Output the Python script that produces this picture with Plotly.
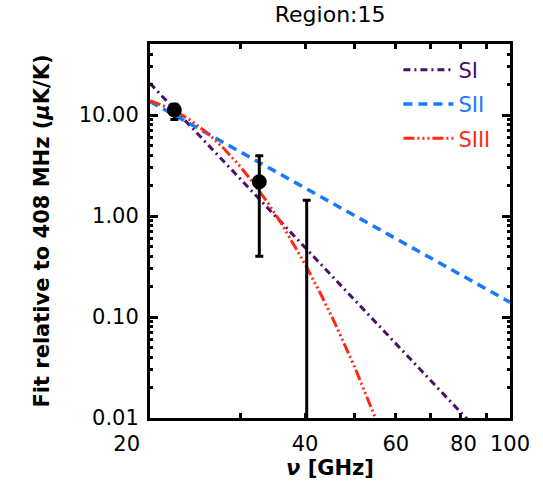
import plotly.graph_objects as go

# Measured brightness relative to 408 MHz
freq_obs = [22.3, 32.6, 40.3]
val_obs = [11.2, 2.18, 0.004]
err_plus = [1.6, 1.78, 1.426]
err_minus = [2.2, 1.78, 0.004]

# Model SI (power law)
freq_s1 = [20, 30, 40, 50, 60, 70, 80, 90]
val_s1 = [20.6, 2.31, 0.489, 0.146, 0.0546, 0.0238, 0.01156, 0.00612]

# Model SII (power law)
freq_s2 = [20, 30, 40, 60, 80, 100]
val_s2 = [13.6, 4.30, 1.90, 0.600, 0.265, 0.140]

# Model SIII (curved spectrum)
freq_s3 = [20, 22, 24, 26, 28, 30, 32, 34, 36, 38, 40, 43, 46, 50, 54, 56]
val_s3 = [13.9, 11.5, 8.87, 6.46, 4.51, 3.05, 2.02, 1.31, 0.838, 0.531,
          0.334, 0.165, 0.0812, 0.0314, 0.0121, 0.0076]

x_ticks = [20, 40, 60, 80, 100]
x_tick_text = ["20" + "\u00a0" * 7, "40", "60", "\u00a080", "100"]
y_ticks = [0.01, 0.1, 1, 10]
y_tick_text = ["0.01", "0.10", "1.00", "10.00"]

C1 = "#4a0f66"
C2 = "#1a78ff"
C3 = "#ff2a12"
FONT = "DejaVu Sans"

fig = go.Figure()

fig.add_trace(go.Scatter(
    x=freq_s1, y=val_s1, mode="lines", legendgroup="a",
    name=f"<span style='color:{C1}'>SI</span>",
    line=dict(color=C1, width=3, dash="7px,4px,2px,4px"),
))
fig.add_trace(go.Scatter(
    x=freq_s2, y=val_s2, mode="lines", legendgroup="b",
    name=f"<span style='color:{C2}'>SII</span>",
    line=dict(color=C2, width=3.5, dash="9px,6px"),
))
fig.add_trace(go.Scatter(
    x=freq_s3, y=val_s3, mode="lines", legendgroup="c",
    name=f"<span style='color:{C3}'>SIII</span>",
    line=dict(color=C3, width=3, dash="11px,3px,2px,3px,2px,3px,2px,3px"),
))
fig.add_trace(go.Scatter(
    x=freq_obs, y=val_obs, mode="markers", showlegend=False,
    marker=dict(color="black", size=15),
    error_y=dict(type="data", symmetric=False, array=err_plus,
                 arrayminus=err_minus, color="black", thickness=3, width=4),
))

axis_common = dict(
    type="log", showline=True, linecolor="black", linewidth=3,
    mirror="allticks", ticks="inside", tickcolor="black",
    showgrid=False, zeroline=False,
    tickfont=dict(family=FONT, size=21, color="black"),
)

fig.update_xaxes(
    **axis_common,
    range=[1.30103, 2.0],
    tickvals=x_ticks, ticktext=x_tick_text,
    ticklen=5, tickwidth=2.5, ticklabelstandoff=5,
    minor=dict(tickvals=[30, 50, 70, 90], ticks="inside", ticklen=5,
               tickwidth=2.5, tickcolor="black", showgrid=False),
    title=dict(text="<b><i>ν</i> [GHz]</b>", standoff=4,
               font=dict(family=FONT, size=21, color="black")),
)
fig.update_yaxes(
    **axis_common,
    range=[-2.0, 1.703],
    tickvals=y_ticks, ticktext=y_tick_text,
    ticklen=8, tickwidth=3, ticklabelstandoff=4,
    minor=dict(tickvals=[m * d for d in [0.01, 0.1, 1, 10] for m in range(2, 10)],
               ticks="inside", ticklen=3, tickwidth=2.5, tickcolor="black",
               showgrid=False),
    title=dict(text="<b>Fit relative to 408 MHz (<i>μ</i>K/K)</b>", standoff=24,
               font=dict(family=FONT, size=21, color="black")),
)

fig.update_layout(
    width=543, height=492,
    margin=dict(l=150, r=33, t=44, b=74),
    paper_bgcolor="white", plot_bgcolor="white",
    title=dict(text="Region:15", x=0.608, xanchor="center", y=0.97,
               yanchor="middle", font=dict(family=FONT, size=22, color="black")),
    legend=dict(x=0.69, y=0.985, xanchor="left", yanchor="top",
                bgcolor="rgba(0,0,0,0)", tracegroupgap=4, itemwidth=50,
                font=dict(family=FONT, size=21)),
    showlegend=True,
)

fig.write_html("out.html")
